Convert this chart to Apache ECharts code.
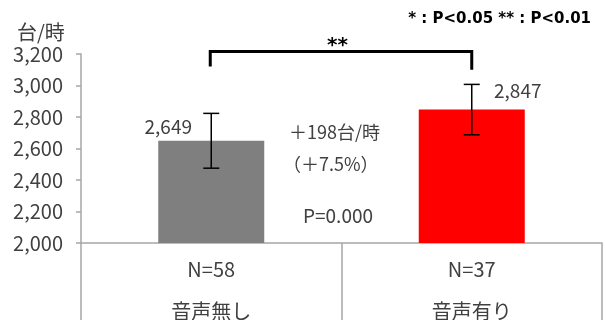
<!DOCTYPE html>
<html>
<head>
<meta charset="utf-8">
<script src="https://cdn.jsdelivr.net/npm/echarts@6/dist/echarts.min.js"></script>
<style>
  html, body { margin: 0; padding: 0; background: #fff; }
  #chart { width: 606px; height: 320px; }
</style>
</head>
<body>
<div id="chart"></div>
<script>
// Groups and sample sizes
const categories = ['音声無し', '音声有り'];
const sampleSizes = ['N=58', 'N=37'];
// Mean throughput (units per hour) and error half-widths
const means = [2649, 2847];
const errors = [174, 160];
const barColors = ['#7f7f7f', '#ff0000'];
// Y axis range and step
const yMin = 2000, yMax = 3200, yStep = 200;
// Significance bracket: top level, left / right end levels
const bracketTop = 3216;
const bracketEnds = [3120, 3100];
const bracketMark = '**';

const FONT = '"Noto Sans CJK JP", "Noto Sans", sans-serif';
const TEXT = '#404040';

const chart = echarts.init(document.getElementById('chart'));

const barData = means.map((v, i) => ({
  value: v,
  itemStyle: { color: barColors[i] },
  label: {
    show: true,
    position: 'top',
    distance: i === 0 ? 5 : 9,
    offset: i === 0 ? [-43, 0] : [46, 0],
    formatter: p => p.value.toLocaleString('en-US'),
    fontFamily: FONT, fontSize: 19, color: TEXT
  }
}));

const errData = means.map((v, i) => [i, v - errors[i], v + errors[i]]);

chart.setOption({
  animation: false,
  grid: { left: 81, right: 4, top: 54, bottom: 77, containLabel: false, outerBoundsMode: 'none' },
  xAxis: {
    type: 'category',
    data: categories,
    axisLine: { show: true, lineStyle: { color: '#a6a6a6', width: 1.5 } },
    axisTick: { show: true, length: 80, interval: 0, lineStyle: { color: '#a6a6a6', width: 1.5 } },
    axisLabel: {
      interval: 0,
      margin: 16,
      fontFamily: FONT, fontSize: 20, color: TEXT, lineHeight: 21,
      formatter: (val, idx) => sampleSizes[idx] + '\n\n' + val
    }
  },
  yAxis: {
    type: 'value',
    min: yMin, max: yMax, interval: yStep,
    axisLine: { show: true, lineStyle: { color: '#a6a6a6', width: 1.5 } },
    axisTick: { show: true, length: 5, lineStyle: { color: '#a6a6a6', width: 1.5 } },
    splitLine: { show: false },
    axisLabel: {
      margin: 18,
      fontFamily: FONT, fontSize: 20, color: TEXT,
      formatter: v => v.toLocaleString('en-US')
    }
  },
  series: [
    {
      type: 'bar',
      data: barData,
      barWidth: 106
    },
    {
      // Error bars with caps
      type: 'custom',
      data: errData,
      z: 5,
      renderItem: (params, api) => {
        const x = api.coord([api.value(0), api.value(1)])[0];
        const lo = api.coord([api.value(0), api.value(1)])[1];
        const hi = api.coord([api.value(0), api.value(2)])[1];
        const cap = 8;
        const style = { stroke: '#000', lineWidth: 1.5, fill: null };
        return {
          type: 'group',
          children: [
            { type: 'line', shape: { x1: x, y1: lo, x2: x, y2: hi }, style },
            { type: 'line', shape: { x1: x - cap, y1: hi, x2: x + cap, y2: hi }, style },
            { type: 'line', shape: { x1: x - cap, y1: lo, x2: x + cap, y2: lo }, style }
          ]
        };
      }
    },
    {
      // Significance bracket between the two groups
      type: 'custom',
      data: [[0, 1, bracketTop, bracketEnds[0], bracketEnds[1]]],
      clip: false,
      z: 6,
      renderItem: (params, api) => {
        const pl = api.coord([api.value(0), api.value(2)]);
        const pr = api.coord([api.value(1), api.value(2)]);
        const yl = api.coord([api.value(0), api.value(3)])[1];
        const yr = api.coord([api.value(1), api.value(4)])[1];
        return {
          type: 'group',
          children: [
            {
              type: 'polyline',
              shape: { points: [[pl[0] - 1, yl], [pl[0] - 1, pl[1]], [pr[0], pr[1]], [pr[0], yr]] },
              style: { stroke: '#000', lineWidth: 3, fill: null, lineJoin: 'miter' }
            },
            {
              type: 'text',
              x: (pl[0] + pr[0]) / 2 - 4,
              y: pl[1] + 4,
              style: {
                text: bracketMark, fontFamily: '"DejaVu Sans", sans-serif', fontSize: 20, fontWeight: 'bold',
                fill: '#000', align: 'center', verticalAlign: 'bottom'
              }
            }
          ]
        };
      }
    }
  ],
  graphic: [
    {
      type: 'text', left: 17, top: 22,
      style: { text: '台/時', fontFamily: FONT, fontSize: 20, fill: TEXT }
    },
    {
      type: 'text', right: 15, top: 12,
      style: { text: '* : P<0.05 ** : P<0.01', fontFamily: '"DejaVu Sans", sans-serif', fontSize: 15, fontWeight: 'bold', fill: '#000' }
    },
    {
      type: 'text', left: 289, top: 123,
      style: { text: '＋198台/時', fontFamily: FONT, fontSize: 18, fill: TEXT }
    },
    {
      type: 'text', left: 283, top: 155,
      style: { text: '（＋7.5%）', fontFamily: FONT, fontSize: 18, fill: TEXT }
    },
    {
      type: 'text', left: 303, top: 206,
      style: { text: 'P=0.000', fontFamily: FONT, fontSize: 19, fill: TEXT }
    }
  ]
});
</script>
</body>
</html>
